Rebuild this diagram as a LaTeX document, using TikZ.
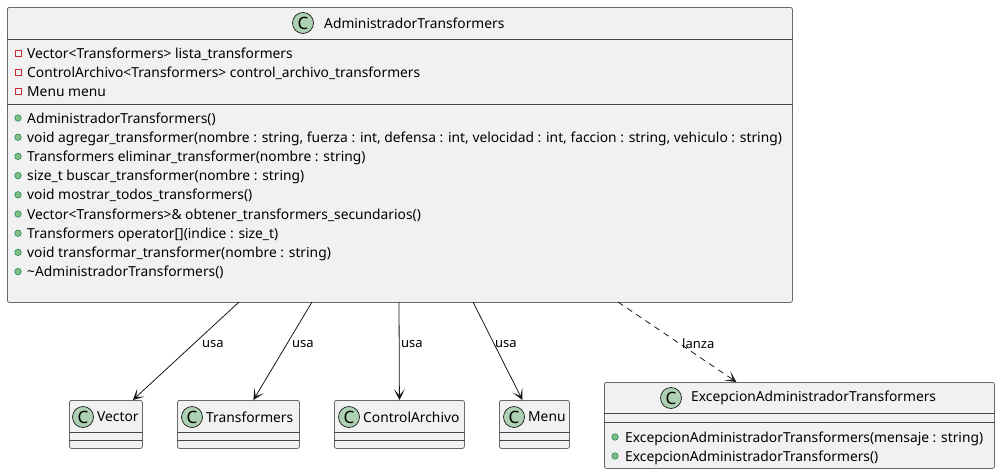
\documentclass[tikz,border=0pt]{standalone}
\usepackage{fontspec}
\setmainfont{Noto Sans}
\usetikzlibrary{arrows.meta}
\definecolor{classbg}{HTML}{F1F1F1}
\definecolor{classline}{HTML}{181818}
\definecolor{circlebg}{HTML}{ADD1B2}
\definecolor{privred}{HTML}{C82930}
\definecolor{pubgreen}{HTML}{84BE84}
\definecolor{pubdark}{HTML}{038048}
\tikzset{
  classbox/.style={draw=classline!65, fill=classbg, rounded corners=2pt, line width=0.8pt, inner sep=0pt, anchor=north west},
  sep/.style={draw=classline!80, line width=0.8pt},
  cmark/.style={circle, draw=classline, fill=circlebg, line width=0.7pt, minimum size=21pt, inner sep=0pt, font=\bfseries\fontsize{17}{17}\selectfont},
  title/.style={anchor=west, inner sep=0pt, font=\fontsize{13.8}{16}\selectfont},
  member/.style={anchor=base west, inner sep=0pt, font=\fontsize{13.8}{16}\selectfont},
  priv/.style={draw=privred, line width=0.7pt, minimum size=6pt, inner sep=0pt},
  pub/.style={circle, draw=pubdark, fill=pubgreen, line width=0.5pt, minimum size=6.5pt, inner sep=0pt},
  usa/.style={-{Stealth[length=11pt,width=11pt,inset=6.5pt]}, line width=0.8pt, draw=classline},
  lanza/.style={usa, dash pattern=on 6pt off 5pt},
  lbl/.style={anchor=west, inner sep=0pt, font=\fontsize{13}{15}\selectfont},
}
\begin{document}
\begin{tikzpicture}[x=1pt, y=-1pt]
        \fill[white] (0,0) rectangle (1000,474);
        \useasboundingbox (0,0) rectangle (1000,474);

        % main class
        \node[classbox, minimum width=785pt, minimum height=295pt] (admin) at (7,7) {};
        \draw[sep] ([yshift=-32pt]admin.north west) -- ([yshift=-32pt]admin.north east);
        \draw[sep] ([yshift=-97pt]admin.north west) -- ([yshift=-97pt]admin.north east);
        \node[cmark] (cadmin) at (303,23) {C};
        \node[title] (tadmin) at (324,23) {AdministradorTransformers};
        \foreach \y/\t [count=\i] in {53/{Vector<Transformers> lista\_transformers},
            72/{ControlArchivo<Transformers> control\_archivo\_transformers},
            91/{Menu menu}} {
          \node[priv] (ai\i) at (18,\y) {};
          \node[member] (a\i) at (27,\y+5) {\t};
        }
        \foreach \y/\t [count=\i] in {118/{AdministradorTransformers()},
            137.2/{void agregar\_transformer(nombre : string, fuerza : int, defensa : int, velocidad : int, faccion : string, vehiculo : string)},
            156.4/{Transformers eliminar\_transformer(nombre : string)},
            175.6/{size\_t buscar\_transformer(nombre : string)},
            194.8/{void mostrar\_todos\_transformers()},
            214/{Vector<Transformers>\& obtener\_transformers\_secundarios()},
            233.2/{Transformers operator[](indice : size\_t)},
            252.4/{void transformar\_transformer(nombre : string)},
            271.6/{\textasciitilde AdministradorTransformers()}} {
          \node[pub] (mi\i) at (18,\y) {};
          \node[member] (m\i) at (27,\y+5) {\t};
        }

        % used classes
        \foreach \n/\x/\w in {vector/69/73, transformers/177/122, controlarchivo/334/130, menu/499/70} {
          \node[classbox, minimum width=\w pt, minimum height=48pt] (\n) at (\x,400) {};
          \draw[sep] ([yshift=-32pt]\n.north west) -- ([yshift=-32pt]\n.north east);
          \draw[sep] ([yshift=-40pt]\n.north west) -- ([yshift=-40pt]\n.north east);
        }
        \node[cmark] (cvector) at (83,417) {C};
        \node[title] (tvector) at (97,417) {Vector};
        \node[cmark] (ctransformers) at (192,417) {C};
        \node[title] (ttransformers) at (206,417) {Transformers};
        \node[cmark] (ccontrolarchivo) at (349,417) {C};
        \node[title] (tcontrolarchivo) at (363,417) {ControlArchivo};
        \node[cmark] (cmenu) at (514,417) {C};
        \node[title] (tmenu) at (528,417) {Menu};

        % exception class
        \node[classbox, minimum width=390pt, minimum height=86pt] (excepcion) at (604,382) {};
        \draw[sep] ([yshift=-31pt]excepcion.north west) -- ([yshift=-31pt]excepcion.north east);
        \draw[sep] ([yshift=-40pt]excepcion.north west) -- ([yshift=-40pt]excepcion.north east);
        \node[cmark] (cexcepcion) at (671,398) {C};
        \node[title] (texcepcion) at (691,398) {ExcepcionAdministradorTransformers};
        \node[pub] (ei1) at (615,437) {};
        \node[member] (e1) at (625,442) {ExcepcionAdministradorTransformers(mensaje : string)};
        \node[pub] (ei2) at (615,456) {};
        \node[member] (e2) at (625,461) {ExcepcionAdministradorTransformers()};

        % relations
        \coordinate (s1) at (239,302);
        \coordinate (s2) at (312,302);
        \coordinate (s3) at (399,302);
        \coordinate (s4) at (473,302);
        \coordinate (s5) at (618,302);
        \draw[usa] (s1) -- ([xshift=27pt]vector.north);
        \draw[usa] (s2) -- ([xshift=15pt]transformers.north);
        \draw[usa] (s3) -- (controlarchivo.north);
        \draw[usa] (s4) -- ([xshift=-12pt]menu.north);
        \draw[lanza] (s5) -- ([xshift=-63pt]excepcion.north);
        \node[lbl] (l1) at (202,344) {usa};
        \node[lbl] (l2) at (292,344) {usa};
        \node[lbl] (l3) at (401,344) {usa};
        \node[lbl] (l4) at (495,344) {usa};
        \node[lbl] (l5) at (682,344) {lanza};
\end{tikzpicture}
\end{document}
